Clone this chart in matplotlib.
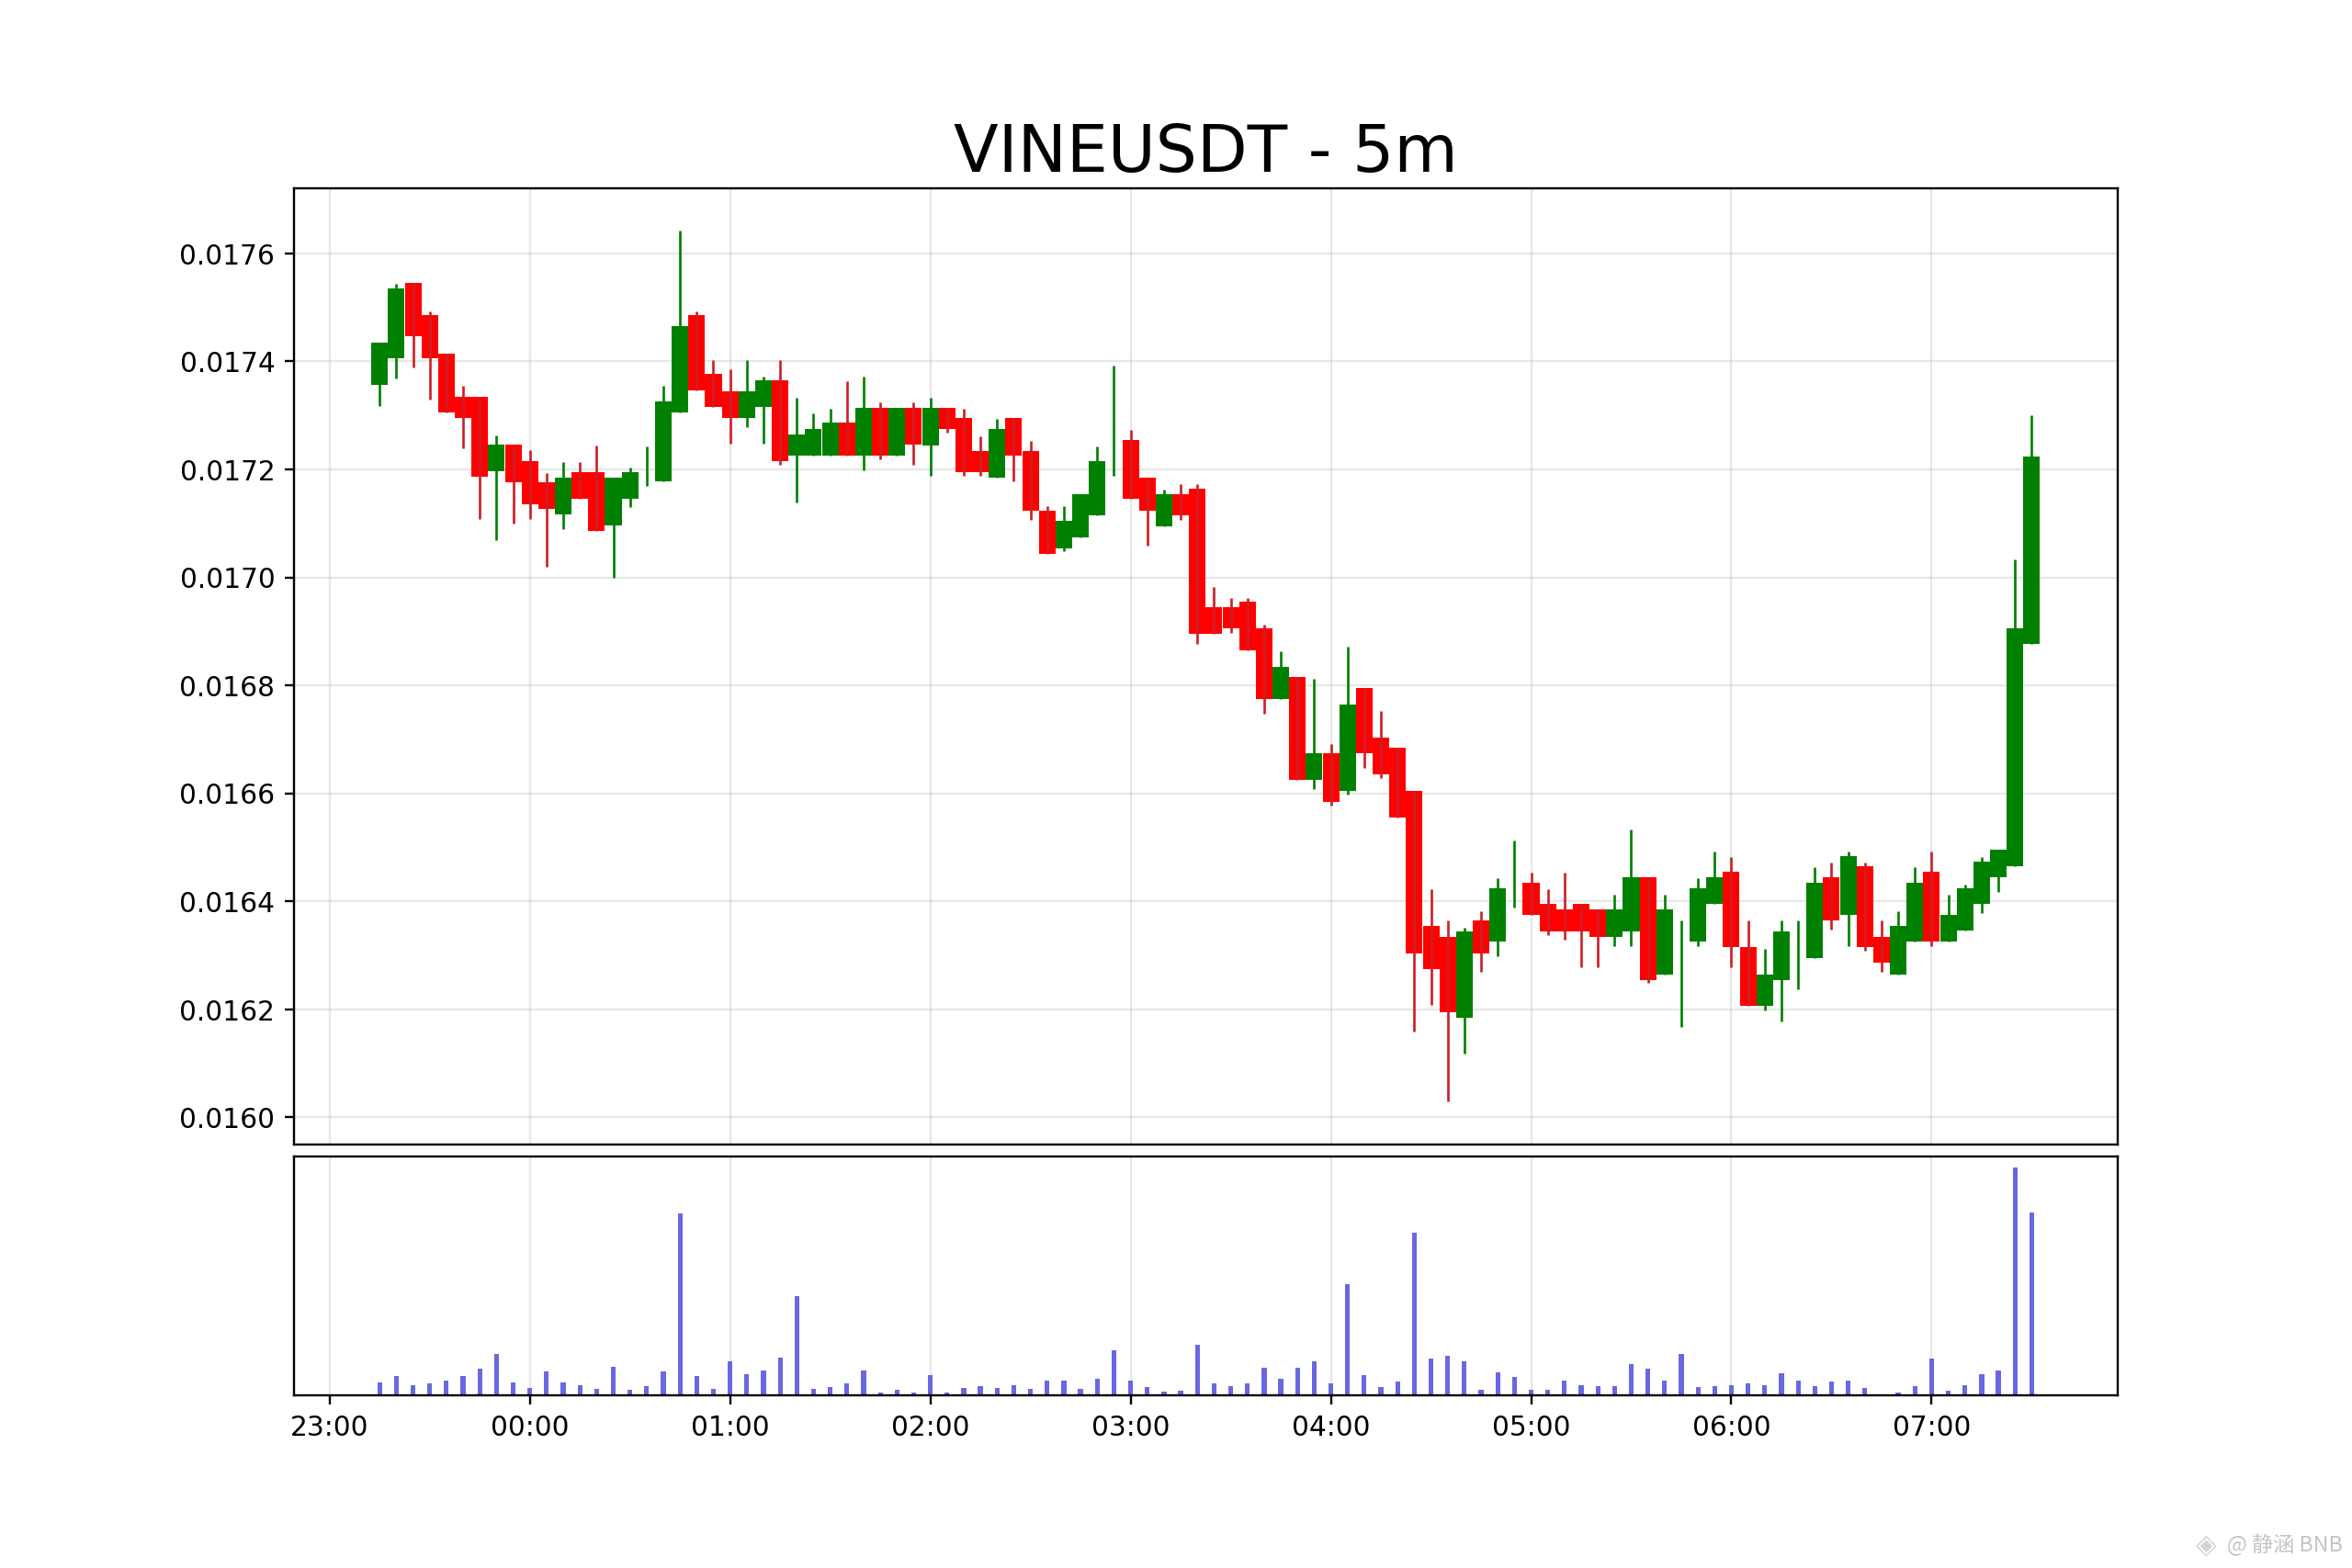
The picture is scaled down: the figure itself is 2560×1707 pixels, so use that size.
import pandas as pd
import matplotlib
matplotlib.use("Agg")
import matplotlib.pyplot as plt
import matplotlib.dates as mdates

#candle values, one every 5 minutes from 23:15
times = pd.date_range("2025-01-01 23:15", periods=100, freq="5min")

opens = [0.017356, 0.017406, 0.017546, 0.017485, 0.017415, 0.017335, 0.017335, 0.017196, 0.017246, 0.017216,
         0.017176, 0.017116, 0.017195, 0.017195, 0.017096, 0.017146, 0.017200, 0.017177, 0.017306, 0.017485,
         0.017376, 0.017345, 0.017296, 0.017315, 0.017365, 0.017226, 0.017226, 0.017226, 0.017286, 0.017226,
         0.017314, 0.017226, 0.017314, 0.017245, 0.017314, 0.017295, 0.017234, 0.017185, 0.017295, 0.017234,
         0.017124, 0.017054, 0.017074, 0.017115, 0.017300, 0.017254, 0.017184, 0.017095, 0.017154, 0.017164,
         0.016945, 0.016945, 0.016955, 0.016905, 0.016775, 0.016815, 0.016625, 0.016674, 0.016605, 0.016795,
         0.016704, 0.016684, 0.016605, 0.016355, 0.016334, 0.016185, 0.016365, 0.016325, 0.016450, 0.016435,
         0.016395, 0.016385, 0.016395, 0.016385, 0.016335, 0.016345, 0.016445, 0.016265, 0.016300, 0.016325,
         0.016395, 0.016455, 0.016316, 0.016206, 0.016255, 0.016300, 0.016295, 0.016445, 0.016375, 0.016465,
         0.016334, 0.016265, 0.016325, 0.016455, 0.016325, 0.016346, 0.016395, 0.016445, 0.016466, 0.016876]
closes = [0.017435, 0.017535, 0.017446, 0.017406, 0.017306, 0.017296, 0.017186, 0.017246, 0.017176, 0.017135,
          0.017126, 0.017185, 0.017146, 0.017086, 0.017185, 0.017195, 0.017200, 0.017325, 0.017465, 0.017346,
          0.017315, 0.017296, 0.017345, 0.017365, 0.017216, 0.017265, 0.017275, 0.017286, 0.017226, 0.017314,
          0.017226, 0.017314, 0.017246, 0.017314, 0.017275, 0.017195, 0.017195, 0.017275, 0.017225, 0.017124,
          0.017044, 0.017104, 0.017154, 0.017215, 0.017300, 0.017145, 0.017124, 0.017154, 0.017115, 0.016895,
          0.016895, 0.016905, 0.016865, 0.016774, 0.016834, 0.016625, 0.016674, 0.016584, 0.016764, 0.016674,
          0.016635, 0.016555, 0.016304, 0.016275, 0.016195, 0.016345, 0.016304, 0.016425, 0.016450, 0.016375,
          0.016345, 0.016345, 0.016345, 0.016335, 0.016385, 0.016445, 0.016255, 0.016385, 0.016300, 0.016425,
          0.016445, 0.016316, 0.016206, 0.016265, 0.016345, 0.016300, 0.016435, 0.016365, 0.016484, 0.016316,
          0.016286, 0.016355, 0.016435, 0.016325, 0.016375, 0.016425, 0.016474, 0.016496, 0.016906, 0.017224]
highs = [0.017435, 0.017543, 0.017546, 0.017493, 0.017415, 0.017354, 0.017335, 0.017263, 0.017246, 0.017235,
         0.017194, 0.017214, 0.017214, 0.017244, 0.017185, 0.017204, 0.017243, 0.017354, 0.017642, 0.017493,
         0.017403, 0.017385, 0.017403, 0.017372, 0.017403, 0.017333, 0.017303, 0.017313, 0.017363, 0.017372,
         0.017324, 0.017314, 0.017324, 0.017332, 0.017314, 0.017313, 0.017262, 0.017293, 0.017295, 0.017253,
         0.017132, 0.017132, 0.017154, 0.017242, 0.017393, 0.017273, 0.017184, 0.017163, 0.017173, 0.017173,
         0.016982, 0.016962, 0.016962, 0.016912, 0.016863, 0.016815, 0.016812, 0.016692, 0.016872, 0.016795,
         0.016752, 0.016684, 0.016605, 0.016423, 0.016364, 0.016352, 0.016382, 0.016443, 0.016513, 0.016453,
         0.016423, 0.016453, 0.016395, 0.016385, 0.016412, 0.016533, 0.016445, 0.016412, 0.016364, 0.016443,
         0.016492, 0.016483, 0.016364, 0.016312, 0.016364, 0.016364, 0.016463, 0.016472, 0.016492, 0.016472,
         0.016364, 0.016382, 0.016463, 0.016492, 0.016412, 0.016432, 0.016483, 0.016496, 0.017033, 0.017301]
lows = [0.017318, 0.017369, 0.017389, 0.017329, 0.017306, 0.017239, 0.017108, 0.017069, 0.017099, 0.017108,
        0.017019, 0.017089, 0.017146, 0.017086, 0.016999, 0.017130, 0.017170, 0.017177, 0.017306, 0.017346,
        0.017315, 0.017248, 0.017279, 0.017248, 0.017208, 0.017138, 0.017226, 0.017226, 0.017226, 0.017199,
        0.017218, 0.017226, 0.017208, 0.017188, 0.017268, 0.017188, 0.017188, 0.017185, 0.017178, 0.017107,
        0.017044, 0.017049, 0.017074, 0.017115, 0.017188, 0.017145, 0.017058, 0.017095, 0.017107, 0.016877,
        0.016895, 0.016898, 0.016865, 0.016748, 0.016775, 0.016625, 0.016608, 0.016577, 0.016598, 0.016647,
        0.016628, 0.016555, 0.016159, 0.016208, 0.016029, 0.016119, 0.016269, 0.016299, 0.016388, 0.016375,
        0.016338, 0.016329, 0.016278, 0.016278, 0.016317, 0.016317, 0.016249, 0.016265, 0.016168, 0.016317,
        0.016395, 0.016278, 0.016206, 0.016198, 0.016178, 0.016238, 0.016295, 0.016348, 0.016317, 0.016308,
        0.016269, 0.016265, 0.016325, 0.016317, 0.016325, 0.016346, 0.016379, 0.016418, 0.016466, 0.016876]
volumes = [43, 63, 34, 39, 49, 63, 88, 135, 43, 26,
           78, 43, 33, 22, 94, 19, 31, 78, 594, 63,
           22, 112, 69, 82, 124, 325, 23, 28, 40, 82,
           11, 19, 9, 67, 11, 25, 31, 25, 33, 22,
           49, 49, 22, 55, 148, 49, 28, 13, 16, 166,
           40, 31, 40, 91, 54, 90, 112, 39, 364, 67,
           28, 46, 532, 120, 130, 112, 18, 76, 61, 18,
           19, 49, 33, 31, 31, 103, 88, 49, 136, 28,
           31, 33, 39, 33, 73, 49, 31, 46, 48, 25,
           3, 10, 31, 120, 16, 33, 69, 82, 745, 598]

title = "VINEUSDT - 5m"
watermark = "@ 静涵 BNB"

fig, (ax1, ax2) = plt.subplots(2, 1, figsize=(12, 8), sharex=True,
                               gridspec_kw={"height_ratios": [4, 1], "hspace": 0.02})

#candles: wick first, body on top
body_width = 0.00345
for t, o, c, h, l in zip(times, opens, closes, highs, lows):
    color = "green" if c >= o else "red"
    wick_color = "green" if c >= o else "#cc1f28"
    ax1.vlines(t, l, h, color=wick_color, linewidth=0.9)
    ax1.bar(t, abs(c - o), bottom=min(o, c), width=body_width, color=color, linewidth=0)

ax2.bar(times, volumes, width=0.001, color="#6868e2")

ax1.set_title(title, fontsize=24)
ax1.set_ylim(0.015950, 0.017721)
ax1.set_yticks([0.0160, 0.0162, 0.0164, 0.0166, 0.0168, 0.0170, 0.0172, 0.0174, 0.0176])
ax1.yaxis.set_major_formatter(lambda v, pos: "{:.4f}".format(v))
ax1.grid(True, alpha=0.3)
ax1.set_axisbelow(True)
ax1.tick_params(axis="x", bottom=False, labelbottom=False)

ax2.set_yticks([])
ax2.set_ylim(0, 781)
ax2.grid(True, axis="x", alpha=0.3)
ax2.set_axisbelow(True)
ax2.xaxis.set_major_locator(mdates.HourLocator())
ax2.xaxis.set_major_formatter(mdates.DateFormatter("%H:%M"))
ax2.set_xlim(pd.Timestamp("2025-01-01 22:49:22"), pd.Timestamp("2025-01-02 07:55:41"))

#small grey logo and handle in the corner
fig.text(0.9465, 0.0146, watermark, fontsize=7.8, color="#c4c4c4", ha="left", va="center",
         family=["Noto Sans CJK SC", "DejaVu Sans"])
fig.text(0.9332, 0.0146, "◈", fontsize=10, color="#d4d4d4", ha="left", va="center",
         family=["DejaVu Sans"])

fig.savefig("out.png", dpi=213.4)
